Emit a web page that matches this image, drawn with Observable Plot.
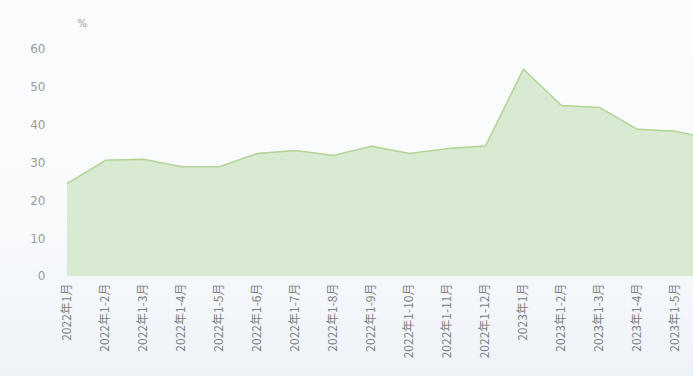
<!DOCTYPE html>
<html>
<head>
<meta charset="utf-8">
<script src="https://cdn.jsdelivr.net/npm/d3@7"></script>
<script src="https://cdn.jsdelivr.net/npm/@observablehq/plot@0.6"></script>
<style>
  html, body { margin: 0; padding: 0; overflow: hidden; }
  body { width: 693px; height: 376px; background: linear-gradient(180deg, #fbfcfd 0%, #f8fafc 60%, #eef3f9 100%); }
  #chart svg { display: block; background: transparent; }
</style>
</head>
<body>
<div id="chart"></div>
<script>
const categories = ["2022年1月","2022年1-2月","2022年1-3月","2022年1-4月","2022年1-5月","2022年1-6月","2022年1-7月","2022年1-8月","2022年1-9月","2022年1-10月","2022年1-11月","2022年1-12月","2023年1月","2023年1-2月","2023年1-3月","2023年1-4月","2023年1-5月","2023年1-6月"];
const values = [24.6, 30.7, 31.0, 29.0, 29.0, 32.5, 33.3, 32.0, 34.4, 32.5, 33.8, 34.5, 54.8, 45.2, 44.7, 38.9, 38.4, 36.2];
const yTicks = [0, 10, 20, 30, 40, 50, 60];
const yUnit = "%";
// the last category lies beyond the right edge of the cropped chart; its label is not shown
const visibleLabels = categories.slice(0, 17);

const data = categories.map((c, i) => ({cat: c, v: values[i]}));

const chart = Plot.plot({
  width: 693,
  height: 376,
  marginLeft: 67,
  marginRight: 0,
  marginTop: 49,
  marginBottom: 100,
  style: {fontFamily: "DejaVu Sans, sans-serif", fontSize: "11px", color: "#9a9a9a", background: "transparent"},
  x: {type: "point", domain: categories, range: [67, 713], padding: 0, align: 0},
  y: {domain: [0, 60]},
  marks: [
    Plot.gridY(yTicks, {stroke: "#e6e9ee", strokeOpacity: 1, strokeWidth: 1.5, x1: 67, x2: 693}),
    Plot.areaY(data, {x: "cat", y: "v", fill: "#d2e6ca", fillOpacity: 0.85, clip: true}),
    Plot.lineY(data, {x: "cat", y: "v", stroke: "#b2d595", strokeWidth: 1.5, clip: true}),
    Plot.axisY(yTicks, {tickSize: 0, tickPadding: 22, label: null, fill: "#9a9a9a", fontSize: 12}),
    Plot.axisX(visibleLabels, {tickSize: 0, tickPadding: 7, tickRotate: -90, label: null, fill: "#7f7f7f", fontSize: 12, fontFamily: "Noto Sans CJK SC, sans-serif"}),
    Plot.text([yUnit], {frameAnchor: "top-left", dx: 10, dy: -30, fill: "#9a9a9a", fontSize: 10})
  ]
});
document.getElementById("chart").appendChild(chart);
</script>
</body>
</html>
